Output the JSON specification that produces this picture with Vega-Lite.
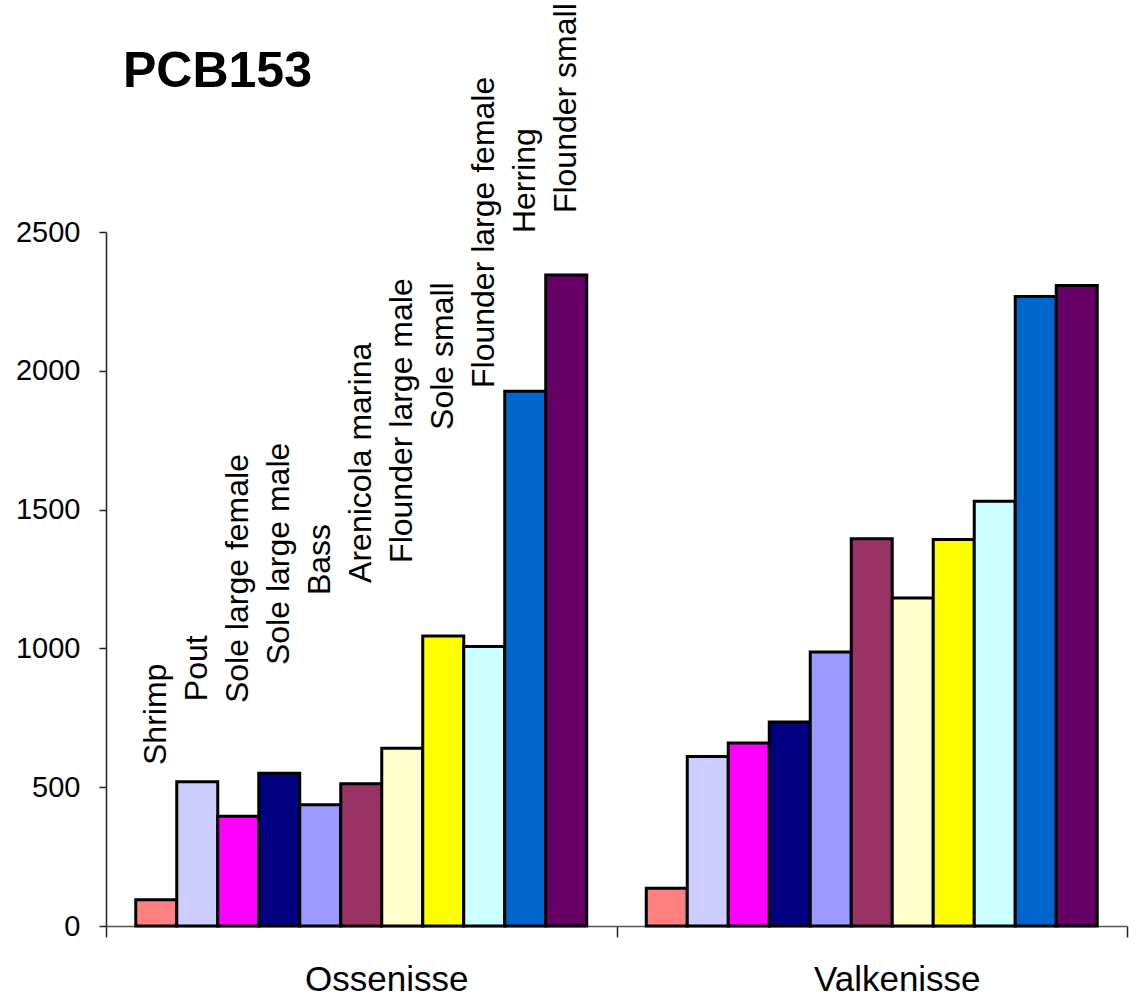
{
  "$schema": "https://vega.github.io/schema/vega-lite/v6.json",
  "width": 1021,
  "height": 694,
  "autosize": {"type": "none"},
  "padding": {"left": 106, "top": 232, "right": 17, "bottom": 74},
  "background": "white",
  "title": {
    "text": "PCB153",
    "anchor": "start",
    "frame": "group",
    "font": "Liberation Sans",
    "fontSize": 50,
    "fontWeight": "bold",
    "color": "#000000",
    "baseline": "alphabetic",
    "dx": 17,
    "offset": -134
  },
  "config": {
    "view": {"stroke": null},
    "axis": {"grid": false, "labelFont": "Liberation Sans", "labelColor": "#000000", "titleFont": "Liberation Sans"}
  },
  "datasets": {
    "pcb": [
      {"site": "Ossenisse", "species": "Shrimp", "value": 95},
      {"site": "Ossenisse", "species": "Pout", "value": 520},
      {"site": "Ossenisse", "species": "Sole large female", "value": 395},
      {"site": "Ossenisse", "species": "Sole large male", "value": 550},
      {"site": "Ossenisse", "species": "Bass", "value": 437},
      {"site": "Ossenisse", "species": "Arenicola marina", "value": 512},
      {"site": "Ossenisse", "species": "Flounder large male", "value": 640},
      {"site": "Ossenisse", "species": "Sole small", "value": 1045},
      {"site": "Ossenisse", "species": "Flounder large female", "value": 1007},
      {"site": "Ossenisse", "species": "Herring", "value": 1926},
      {"site": "Ossenisse", "species": "Flounder small", "value": 2345},
      {"site": "Valkenisse", "species": "Shrimp", "value": 136},
      {"site": "Valkenisse", "species": "Pout", "value": 611},
      {"site": "Valkenisse", "species": "Sole large female", "value": 659},
      {"site": "Valkenisse", "species": "Sole large male", "value": 735},
      {"site": "Valkenisse", "species": "Bass", "value": 987},
      {"site": "Valkenisse", "species": "Arenicola marina", "value": 1395},
      {"site": "Valkenisse", "species": "Flounder large male", "value": 1182},
      {"site": "Valkenisse", "species": "Sole small", "value": 1392},
      {"site": "Valkenisse", "species": "Flounder large female", "value": 1530},
      {"site": "Valkenisse", "species": "Herring", "value": 2268},
      {"site": "Valkenisse", "species": "Flounder small", "value": 2307}
    ],
    "labels": [
      {"site": "Ossenisse", "species": "Shrimp", "at": 580},
      {"site": "Ossenisse", "species": "Pout", "at": 810},
      {"site": "Ossenisse", "species": "Sole large female", "at": 803},
      {"site": "Ossenisse", "species": "Sole large male", "at": 940},
      {"site": "Ossenisse", "species": "Bass", "at": 1192},
      {"site": "Ossenisse", "species": "Arenicola marina", "at": 1236},
      {"site": "Ossenisse", "species": "Flounder large male", "at": 1308},
      {"site": "Ossenisse", "species": "Sole small", "at": 1787},
      {"site": "Ossenisse", "species": "Flounder large female", "at": 1938},
      {"site": "Ossenisse", "species": "Herring", "at": 2496},
      {"site": "Ossenisse", "species": "Flounder small", "at": 2568}
    ]
  },
  "layer": [
    {
      "data": {"name": "pcb"},
      "mark": {"type": "bar", "stroke": "#000000", "strokeWidth": 3, "strokeJoin": "miter"},
      "encoding": {
        "x": {
          "field": "site",
          "type": "nominal",
          "scale": {"domain": ["Ossenisse", "Valkenisse"], "paddingInner": 0, "paddingOuter": 0},
          "axis": {
            "title": null,
            "labelAngle": 0,
            "labelFontSize": 35,
            "labelPadding": 25,
            "labelOffset": 25,
            "tickBand": "extent",
            "tickSize": 11,
            "tickColor": "#222222",
            "tickWidth": 1.5,
            "domainColor": "#555555",
            "domainWidth": 1.5
          }
        },
        "xOffset": {
          "field": "species",
          "type": "nominal",
          "scale": {
            "domain": ["Shrimp", "Pout", "Sole large female", "Sole large male", "Bass", "Arenicola marina", "Flounder large male", "Sole small", "Flounder large female", "Herring", "Flounder small"],
            "paddingInner": 0,
            "paddingOuter": 0.726
          }
        },
        "y": {
          "field": "value",
          "type": "quantitative",
          "scale": {"domain": [0, 2500], "nice": false, "zero": true},
          "axis": {
            "title": null,
            "values": [0, 500, 1000, 1500, 2000, 2500],
            "format": "d",
            "labelFontSize": 29,
            "labelPadding": 19,
            "tickSize": 7,
            "tickColor": "#222222",
            "tickWidth": 1.5,
            "domainColor": "#222222",
            "domainWidth": 1.5
          }
        },
        "color": {
          "field": "species",
          "type": "nominal",
          "legend": null,
          "scale": {
            "domain": ["Shrimp", "Pout", "Sole large female", "Sole large male", "Bass", "Arenicola marina", "Flounder large male", "Sole small", "Flounder large female", "Herring", "Flounder small"],
            "range": ["#FF8080", "#CCCCFF", "#FF00FF", "#000080", "#9999FF", "#993366", "#FFFFCC", "#FFFF00", "#CCFFFF", "#0066CC", "#660066"]
          }
        }
      }
    },
    {
      "data": {"name": "labels"},
      "mark": {
        "type": "text",
        "angle": 270,
        "align": "left",
        "baseline": "middle",
        "font": "Liberation Sans",
        "fontSize": 32,
        "color": "#000000"
      },
      "encoding": {
        "x": {"field": "site", "type": "nominal"},
        "xOffset": {"field": "species", "type": "nominal"},
        "y": {"field": "at", "type": "quantitative"},
        "text": {"field": "species", "type": "nominal"}
      }
    }
  ]
}
